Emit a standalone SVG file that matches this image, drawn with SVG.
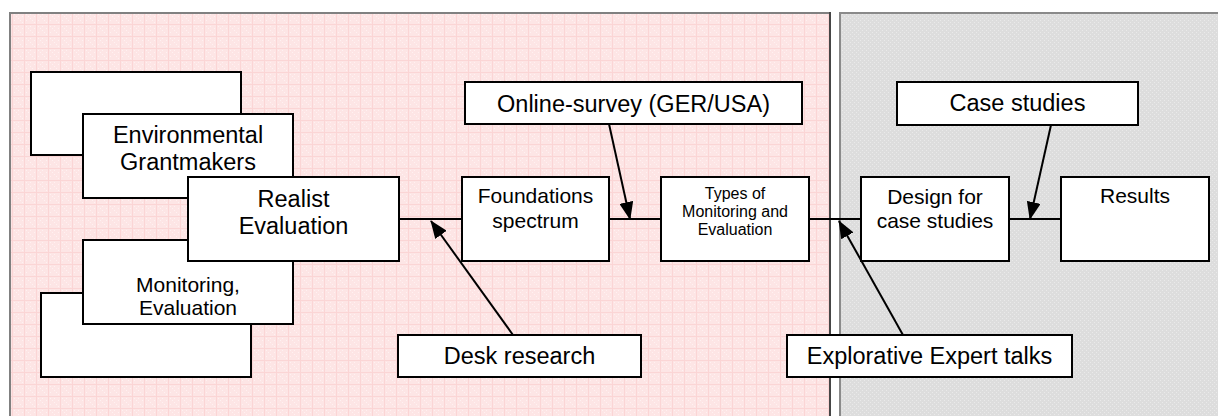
<svg xmlns="http://www.w3.org/2000/svg" width="1218" height="416" viewBox="0 0 1218 416">
<style>
.box{fill:#fff;stroke:#000;stroke-width:2}
.t{font-family:"Liberation Sans",Arial,sans-serif;fill:#000;text-anchor:middle}
.conn{stroke:#000;stroke-width:2;fill:none}
</style>
<defs>
<pattern id="pinkGrid" width="12" height="12" patternUnits="userSpaceOnUse">
<rect width="12" height="12" fill="#fde5e5"/>
<rect x="0" y="0" width="1" height="1" fill="#fff1f1"/>
<rect x="2" y="2" width="1" height="1" fill="#fff1f1"/>
<rect x="4" y="4" width="1" height="1" fill="#fff1f1"/>
<rect x="6" y="6" width="1" height="1" fill="#fff1f1"/>
<rect x="8" y="8" width="1" height="1" fill="#fff1f1"/>
<rect x="10" y="10" width="1" height="1" fill="#fff1f1"/>
<rect x="6" y="2" width="1" height="1" fill="#fff1f1"/>
<rect x="2" y="8" width="1" height="1" fill="#fff1f1"/>
<rect x="10" y="4" width="1" height="1" fill="#fff1f1"/>
<rect x="0" y="0" width="1" height="12" fill="#fbd5d5"/>
<rect x="0" y="0" width="12" height="1" fill="#fbd5d5"/>
</pattern>
<pattern id="greyDots" width="4" height="4" patternUnits="userSpaceOnUse">
<rect width="4" height="4" fill="#dddddd"/>
<rect x="0" y="0" width="1" height="1" fill="#eaeaea"/>
<rect x="2" y="2" width="1" height="1" fill="#eaeaea"/>
</pattern>
<marker id="arr" viewBox="0 0 18 14" refX="17" refY="7" markerWidth="18" markerHeight="14" markerUnits="userSpaceOnUse" orient="auto">
<path d="M0,0 L18,7 L0,14 Z" fill="#000"/>
</marker>
</defs>
<rect width="1218" height="416" fill="#fff"/>
<g id="panels">
<rect x="10" y="13" width="820" height="410" fill="url(#pinkGrid)" stroke="#808080" stroke-width="2"/>
<line x1="830" y1="12" x2="830" y2="416" stroke="#333" stroke-width="1.5"/>
<rect x="840" y="13" width="390" height="410" fill="url(#greyDots)" stroke="#8a8a8a" stroke-width="2"/>
</g>
<g id="connectors">
<line class="conn" x1="399" y1="219" x2="462" y2="219"/>
<line class="conn" x1="609" y1="219" x2="661" y2="219"/>
<line class="conn" x1="809" y1="219" x2="861" y2="219"/>
<line class="conn" x1="1009" y1="219" x2="1061" y2="219"/>
<line class="conn" x1="513" y1="335" x2="431" y2="221" marker-end="url(#arr)"/>
<line class="conn" x1="609" y1="124" x2="630" y2="219" marker-end="url(#arr)"/>
<line class="conn" x1="1051" y1="125" x2="1030" y2="219" marker-end="url(#arr)"/>
<line class="conn" x1="903" y1="335" x2="839" y2="221" marker-end="url(#arr)"/>
</g>
<g id="back1"><rect class="box" x="31" y="72" width="210" height="83"/></g>
<g id="back2"><rect class="box" x="41" y="293" width="210" height="84"/></g>
<g id="env">
<rect class="box" x="83" y="114" width="210" height="84"/>
<text class="t" x="188" y="143" font-size="23.5">Environmental</text>
<text class="t" x="188" y="170" font-size="23.5">Grantmakers</text>
</g>
<g id="monitoring">
<rect class="box" x="83" y="240" width="210" height="84"/>
<text class="t" x="188" y="292" font-size="21">Monitoring,</text>
<text class="t" x="188" y="315" font-size="21">Evaluation</text>
</g>
<g id="realist">
<rect class="box" x="188" y="177" width="211" height="84"/>
<text class="t" x="293.5" y="207" font-size="23.5">Realist</text>
<text class="t" x="293.5" y="234" font-size="23.5">Evaluation</text>
</g>
<g id="foundations">
<rect class="box" x="462" y="177" width="147" height="84"/>
<text class="t" x="535.5" y="203" font-size="21">Foundations</text>
<text class="t" x="535.5" y="228" font-size="21">spectrum</text>
</g>
<g id="types">
<rect class="box" x="661" y="177" width="148" height="84"/>
<text class="t" x="735" y="199" font-size="16">Types of</text>
<text class="t" x="735" y="217" font-size="16">Monitoring and</text>
<text class="t" x="735" y="235" font-size="16">Evaluation</text>
</g>
<g id="design">
<rect class="box" x="861" y="177" width="148" height="84"/>
<text class="t" x="935" y="204" font-size="21">Design for</text>
<text class="t" x="935" y="228" font-size="21">case studies</text>
</g>
<g id="results">
<rect class="box" x="1061" y="177" width="148" height="84"/>
<text class="t" x="1135" y="203" font-size="21">Results</text>
</g>
<g id="online">
<rect class="box" x="465" y="82" width="337" height="42"/>
<text class="t" x="633.5" y="112" font-size="23.5">Online-survey (GER/USA)</text>
</g>
<g id="casestudies">
<rect class="box" x="897" y="82" width="241" height="43"/>
<text class="t" x="1017.5" y="111" font-size="23.5">Case studies</text>
</g>
<g id="desk">
<rect class="box" x="398" y="335" width="243" height="42"/>
<text class="t" x="519.5" y="364" font-size="23.5">Desk research</text>
</g>
<g id="explorative">
<rect class="box" x="787" y="335" width="285" height="42"/>
<text class="t" x="929.5" y="364" font-size="23.5">Explorative Expert talks</text>
</g>
</svg>
